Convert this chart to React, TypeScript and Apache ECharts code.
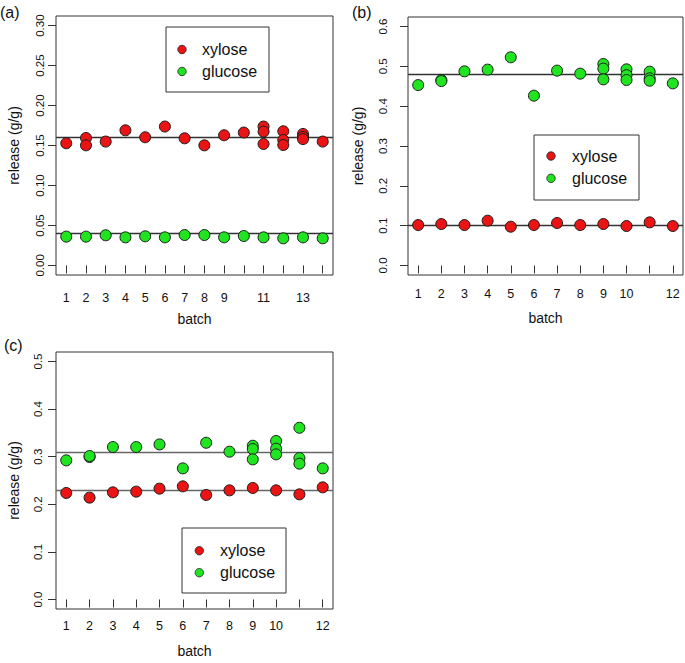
import React, { useEffect, useRef } from "react";
import * as echarts from "echarts";

// ---------- data ----------
// panel (a)
const aBatchTicks = [1, 2, 3, 4, 5, 6, 7, 8, 9, 10, 11, 12, 13, 14];
const aBatchLabels = [1, 2, 3, 4, 5, 6, 7, 8, 9, 11, 13];
const aYTicks = [0, 0.05, 0.1, 0.15, 0.2, 0.25, 0.3];
const aXylose: [number, number][] = [
  [1, 0.1528], [2, 0.1594], [2, 0.1502], [3, 0.1549], [4, 0.169], [5, 0.1603],
  [6, 0.1737], [7, 0.159], [8, 0.1502], [9, 0.1628], [10, 0.1662],
  [11, 0.1737], [11, 0.1674], [11, 0.1519], [12, 0.1678], [12, 0.1569], [12, 0.1506],
  [13, 0.1645], [13, 0.1607], [13, 0.158], [14, 0.1549],
];
const aGlucose: [number, number][] = [
  [1, 0.036], [2, 0.036], [3, 0.0377], [4, 0.0351], [5, 0.0364], [6, 0.0351],
  [7, 0.038], [8, 0.038], [9, 0.0351], [10, 0.0368], [11, 0.0351], [12, 0.0339],
  [13, 0.0351], [14, 0.0339],
];
const aMeanXylose = 0.1607;
const aMeanGlucose = 0.036;

// panel (b)
const bBatchTicks = [1, 2, 3, 4, 5, 6, 7, 8, 9, 10, 11, 12];
const bBatchLabels = [1, 2, 3, 4, 5, 6, 7, 8, 9, 10, 12];
const bYTicks = [0, 0.1, 0.2, 0.3, 0.4, 0.5, 0.6];
const bXylose: [number, number][] = [
  [1, 0.1015], [2, 0.104], [3, 0.1015], [4, 0.1124], [5, 0.0973], [6, 0.1015],
  [7, 0.1066], [8, 0.1015], [9, 0.104], [10, 0.099], [11, 0.1082], [12, 0.099],
];
const bGlucose: [number, number][] = [
  [1, 0.453], [2, 0.4657], [2, 0.463], [3, 0.4875], [4, 0.4918], [5, 0.5228],
  [6, 0.4264], [7, 0.4893], [8, 0.4817],
  [9, 0.506], [9, 0.4943], [9, 0.4674],
  [10, 0.4926], [10, 0.478], [10, 0.4657],
  [11, 0.4867], [11, 0.47], [11, 0.464], [12, 0.4573],
];
const bMeanXylose = 0.104;
const bMeanGlucose = 0.4775;

// panel (c)
const cBatchTicks = [1, 2, 3, 4, 5, 6, 7, 8, 9, 10, 11, 12];
const cBatchLabels = [1, 2, 3, 4, 5, 6, 7, 8, 9, 10, 12];
const cYTicks = [0, 0.1, 0.2, 0.3, 0.4, 0.5];
const cXylose: [number, number][] = [
  [1, 0.2238], [2, 0.214], [3, 0.2251], [4, 0.2266], [5, 0.2329], [6, 0.2377],
  [7, 0.2196], [8, 0.2293], [9, 0.2343], [10, 0.2293], [11, 0.2209], [12, 0.2356],
];
const cGlucose: [number, number][] = [
  [1, 0.2923], [2, 0.2993], [2, 0.3015], [3, 0.3203], [4, 0.3203], [5, 0.3258],
  [6, 0.2755], [7, 0.3293], [8, 0.3105],
  [9, 0.323], [9, 0.316], [9, 0.2944],
  [10, 0.333], [10, 0.3168], [10, 0.3049],
  [11, 0.3608], [11, 0.2972], [11, 0.2853], [12, 0.2755],
];
const cMeanXylose = 0.2272;
const cMeanGlucose = 0.309;

const seriesNames = ["xylose", "glucose"];
const panelLabels = ["(a)", "(b)", "(c)"];

// ---------- style ----------
const FONT = "'Liberation Sans', Arial, Helvetica, sans-serif";
const RED = "#ea1414";
const GREEN = "#20e420";
const OUTLINE = "#1c1c1c";
const BOX = "#333333";
const TXT = "#111111";

type Panel = {
  grid: { left: number; top: number; width: number; height: number };
  xMin: number; xMax: number; xTicks: number[]; xLabels: number[];
  yMin: number; yMax: number; yTicks: number[]; yDigits: number;
  xLabelMargin: number; xNameGap: number; yLabelMargin: number; yNameGap: number;
  xylose: [number, number][]; glucose: [number, number][];
  meanX: number; meanG: number; lineColor: string;
};

const panels: Panel[] = [
  {
    grid: { left: 56, top: 16, width: 277, height: 259 },
    xMin: 0.48, xMax: 14.52, xTicks: aBatchTicks, xLabels: aBatchLabels,
    yMin: -0.012, yMax: 0.312, yTicks: aYTicks, yDigits: 2,
    xLabelMargin: 16, xNameGap: 37, yLabelMargin: 10, yNameGap: 35,
    xylose: aXylose, glucose: aGlucose, meanX: aMeanXylose, meanG: aMeanGlucose,
    lineColor: "#333",
  },
  {
    grid: { left: 408, top: 17, width: 275, height: 258 },
    xMin: 0.56, xMax: 12.44, xTicks: bBatchTicks, xLabels: bBatchLabels,
    yMin: -0.024, yMax: 0.624, yTicks: bYTicks, yDigits: 1,
    xLabelMargin: 12, xNameGap: 36, yLabelMargin: 19, yNameGap: 43,
    xylose: bXylose, glucose: bGlucose, meanX: bMeanXylose, meanG: bMeanGlucose,
    lineColor: "#333",
  },
  {
    grid: { left: 56, top: 352, width: 277, height: 257 },
    xMin: 0.56, xMax: 12.44, xTicks: cBatchTicks, xLabels: cBatchLabels,
    yMin: -0.02, yMax: 0.52, yTicks: cYTicks, yDigits: 1,
    xLabelMargin: 10, xNameGap: 35, yLabelMargin: 12, yNameGap: 35,
    xylose: cXylose, glucose: cGlucose, meanX: cMeanXylose, meanG: cMeanGlucose,
    lineColor: "#666",
  },
];

// legend boxes and panel-label positions (layout only)
const legendBoxes = [
  { x: 166, y: 27, w: 103, h: 65, dotX: 182, dotY1: 49.5, dotY2: 71.5, textX: 202 },
  { x: 534, y: 135, w: 105, h: 65, dotX: 551, dotY1: 156, dotY2: 178.3, textX: 572 },
  { x: 182, y: 528, w: 104, h: 65, dotX: 199.3, dotY1: 550.7, dotY2: 572.7, textX: 220 },
];
const panelLabelPos = [
  { x: 0, y: 12 },
  { x: 352, y: 12 },
  { x: 4, y: 345 },
];

function buildOption() {
  const grid = panels.map((p) => ({
    ...p.grid,
    show: true,
    borderColor: BOX,
    borderWidth: 1,
    backgroundColor: "transparent",
    containLabel: false,
  }));
  const xAxis = panels.map((p, i) => ({
    type: "value",
    gridIndex: i,
    min: p.xMin,
    max: p.xMax,
    name: "batch",
    nameLocation: "middle",
    nameGap: p.xNameGap,
    nameTextStyle: { fontSize: 14, color: TXT, fontFamily: FONT },
    axisLine: { show: false },
    splitLine: { show: false },
    axisTick: { show: true, length: 8, customValues: p.xTicks, lineStyle: { color: BOX, width: 1 } },
    axisLabel: {
      customValues: p.xLabels,
      fontSize: 12.5,
      color: TXT,
      fontFamily: FONT,
      margin: p.xLabelMargin,
      formatter: (v: number) => String(v),
    },
  }));
  const yAxis = panels.map((p, i) => ({
    type: "value",
    gridIndex: i,
    min: p.yMin,
    max: p.yMax,
    name: "release (g/g)",
    nameLocation: "middle",
    nameRotate: 90,
    nameGap: p.yNameGap,
    nameTextStyle: { fontSize: 14, color: TXT, fontFamily: FONT },
    axisLine: { show: false },
    splitLine: { show: false },
    axisTick: { show: true, length: 8, customValues: p.yTicks, lineStyle: { color: BOX, width: 1 } },
    axisLabel: {
      customValues: p.yTicks,
      rotate: 90,
      fontSize: 11.5,
      color: TXT,
      fontFamily: FONT,
      margin: p.yLabelMargin,
      formatter: (v: number) => v.toFixed(p.yDigits),
    },
  }));
  const series: any[] = [];
  panels.forEach((p, i) => {
    const mk = (name: string, data: [number, number][], color: string, mean: number) => ({
      type: "scatter",
      name,
      xAxisIndex: i,
      yAxisIndex: i,
      data,
      symbol: "circle",
      symbolSize: 11,
      itemStyle: { color, borderColor: OUTLINE, borderWidth: 1, opacity: 1 },
      z: 3,
      markLine: {
        silent: true,
        z: 1,
        symbol: ["none", "none"],
        label: { show: false },
        lineStyle: { color: p.lineColor, width: 1.3, type: "solid" },
        emphasis: { disabled: true },
        data: [{ yAxis: mean }],
      },
    });
    series.push(mk(seriesNames[0], p.xylose, RED, p.meanX));
    series.push(mk(seriesNames[1], p.glucose, GREEN, p.meanG));
  });

  const graphic: any[] = [];
  legendBoxes.forEach((b) => {
    graphic.push({
      type: "rect",
      z: 100,
      shape: { x: b.x, y: b.y, width: b.w, height: b.h },
      style: { fill: "#ffffff", stroke: BOX, lineWidth: 1 },
    });
    [
      { y: b.dotY1, color: RED, name: seriesNames[0] },
      { y: b.dotY2, color: GREEN, name: seriesNames[1] },
    ].forEach((it) => {
      graphic.push({
        type: "circle",
        z: 101,
        shape: { cx: b.dotX, cy: it.y, r: 4.2 },
        style: { fill: it.color, stroke: OUTLINE, lineWidth: 0.8 },
      });
      graphic.push({
        type: "text",
        z: 101,
        x: b.textX,
        y: it.y,
        style: {
          text: it.name,
          fontSize: 16,
          fontFamily: FONT,
          fill: TXT,
          verticalAlign: "middle",
          align: "left",
        },
      });
    });
  });
  panelLabels.forEach((t, i) => {
    graphic.push({
      type: "text",
      z: 101,
      x: panelLabelPos[i].x,
      y: panelLabelPos[i].y,
      style: { text: t, fontSize: 16, fontFamily: FONT, fill: TXT, verticalAlign: "middle", align: "left" },
    });
  });

  return {
    animation: false,
    backgroundColor: "#ffffff",
    textStyle: { fontFamily: FONT },
    grid,
    xAxis,
    yAxis,
    series,
    graphic,
  };
}

export default function App() {
  const ref = useRef<HTMLDivElement>(null);
  useEffect(() => {
    if (!ref.current) return;
    const chart = echarts.init(ref.current, undefined, { renderer: "svg" });
    chart.setOption(buildOption() as any);
    return () => chart.dispose();
  }, []);
  return (
    <div
      ref={ref}
      style={{ position: "absolute", left: 0, top: 0, width: 685, height: 663, background: "#fff" }}
    />
  );
}
